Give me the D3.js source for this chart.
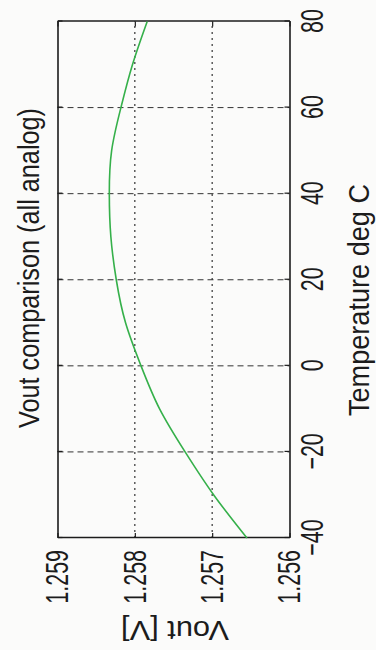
<!DOCTYPE html>
<html><head><meta charset="utf-8">
<script src="https://cdn.jsdelivr.net/npm/d3@7"></script>
<style>html,body{margin:0;padding:0;background:#fbfbfa;} svg{display:block}</style>
</head><body><svg id="c" width="376" height="650"></svg>
<script>
const temperatures = [-40,-30,-20,-10,0,10,20,30,40,50,60,70,80];
const vout = [1.25655,1.25698,1.25735,1.25768,1.25792,1.25812,1.25824,1.25831,1.25833,1.25830,1.25818,1.25803,1.25784];
const tempTicks = [-40,-20,0,20,40,60,80];
const voutTicks = [1.256,1.257,1.258,1.259];
const titleText = "Vout comparison (all analog)";
const xLabelText = "Temperature deg C";
const yLabelText = "Vout [V]";

const W = 376, H = 650;
const ink = "#1c1c1c";
const font = "'Liberation Sans', Arial, sans-serif";
const svg = d3.select("#c");
svg.append("rect").attr("width", W).attr("height", H).attr("fill", "#fbfbfa");

// chart drawn in a local frame, then turned a quarter turn counter-clockwise
const g = svg.append("g").attr("transform", `translate(0,${H}) rotate(-90)`);
const x = d3.scaleLinear().domain([-40, 80]).range([112, 628.5]);
const y = d3.scaleLinear().domain([1.256, 1.259]).range([289.5, 57.5]);
const [x0, x1] = x.range(), [y0, y1] = y.range();

// grid
g.append("g").selectAll("line").data(tempTicks.filter(t => t > -40 && t < 80)).join("line")
  .attr("x1", d => x(d)).attr("x2", d => x(d)).attr("y1", y1).attr("y2", y0)
  .attr("stroke", "#333").attr("stroke-width", 1).attr("stroke-dasharray", "6,4");
g.append("g").selectAll("line").data(voutTicks.filter(v => v > 1.256 && v < 1.259)).join("line")
  .attr("y1", d => y(d)).attr("y2", d => y(d)).attr("x1", x0).attr("x2", x1)
  .attr("stroke", "#333").attr("stroke-width", 1.2).attr("stroke-dasharray", "2,4");

// axes
const ax = [
  g.append("g").attr("transform", `translate(0,${y0})`).call(d3.axisBottom(x).tickValues(tempTicks).tickSizeInner(-5).tickSizeOuter(0).tickPadding(11)),
  g.append("g").attr("transform", `translate(0,${y1})`).call(d3.axisTop(x).tickValues(tempTicks).tickFormat("").tickSizeInner(-5).tickSizeOuter(0)),
  g.append("g").attr("transform", `translate(${x0},0)`).call(d3.axisLeft(y).tickValues(voutTicks).tickFormat(d3.format(".3f")).tickSizeInner(-5).tickSizeOuter(0).tickPadding(12)),
  g.append("g").attr("transform", `translate(${x1},0)`).call(d3.axisRight(y).tickValues(voutTicks).tickFormat("").tickSizeInner(-5).tickSizeOuter(0))
];
ax.forEach(a => {
  a.select(".domain").attr("stroke", ink).attr("stroke-width", 1.6);
  a.selectAll(".tick line").attr("stroke", ink).attr("stroke-width", 1.2);
  a.selectAll(".tick text").attr("fill", ink).attr("font-family", font).attr("font-size", 32);
});
g.selectAll(".tick text").each(function() {
  const t = d3.select(this);
  if (!t.text()) return;
  const L = this.getComputedTextLength();
  t.attr("textLength", L * 0.67).attr("lengthAdjust", "spacingAndGlyphs");
});

// curve
const pts = temperatures.map((t, i) => [t, vout[i]]);
g.append("path").datum(pts)
  .attr("d", d3.line().x(d => x(d[0])).y(d => y(d[1])).curve(d3.curveNatural))
  .attr("fill", "none").attr("stroke", "#35b04a").attr("stroke-width", 1.6);

// labels
g.append("text").attr("x", 382).attr("y", 39).attr("text-anchor", "middle")
  .attr("font-family", font).attr("font-size", 30).attr("fill", ink)
  .attr("textLength", 320).attr("lengthAdjust", "spacingAndGlyphs").text(titleText);
g.append("text").attr("x", 300 + 50).attr("y", 369).attr("text-anchor", "middle")
  .attr("font-family", font).attr("font-size", 29).attr("fill", ink)
  .attr("textLength", 232).attr("lengthAdjust", "spacingAndGlyphs").text(xLabelText);
g.append("text").attr("transform", `translate(29,175) rotate(-90)`).attr("text-anchor", "middle")
  .attr("font-family", font).attr("font-size", 27).attr("fill", ink)
  .attr("textLength", 108).attr("lengthAdjust", "spacingAndGlyphs").text(yLabelText);
</script>
</body></html>
